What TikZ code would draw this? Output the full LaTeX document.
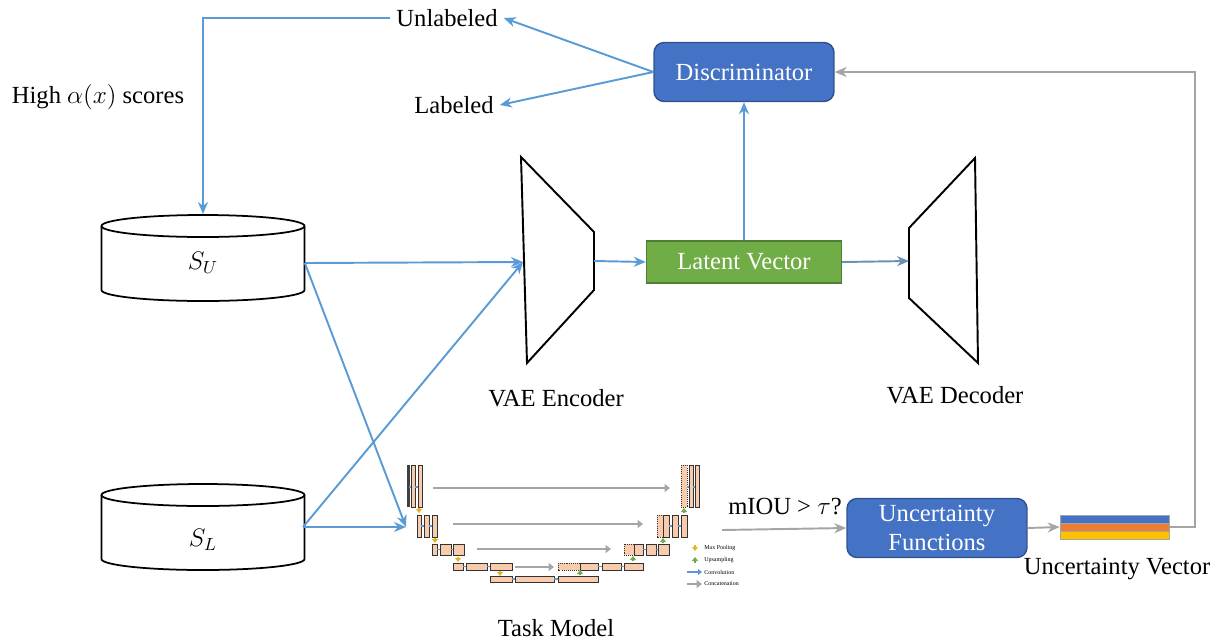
\documentclass[tikz,border=0pt]{standalone}
\usepackage{amsmath}
\usepackage{fontspec}
\setmainfont{Liberation Serif}
\usetikzlibrary{arrows.meta,positioning}

\definecolor{boxblue}{HTML}{4472C4}
\definecolor{boxedge}{HTML}{2F528F}
\definecolor{latgreen}{HTML}{70AD47}
\definecolor{latedge}{HTML}{507E32}
\definecolor{arrblue}{HTML}{5B9BD5}
\definecolor{arrgray}{HTML}{A5A5A5}
\definecolor{peach}{HTML}{F8CBAD}
\definecolor{vorange}{HTML}{ED7D31}
\definecolor{vyellow}{HTML}{FFC000}
\definecolor{poolcol}{HTML}{E6B422}

\begin{document}
\begin{tikzpicture}[x=0.02cm,y=-0.02cm,font=\fontsize{14}{16.5}\selectfont,
  block/.style={draw=boxedge,fill=boxblue,text=white,rounded corners=0.2cm,line width=0.8pt,
    minimum width=3.6cm,minimum height=1.18cm,align=center},
  latent/.style={draw=latedge,fill=latgreen,text=white,line width=0.8pt,
    minimum width=3.9cm,minimum height=0.84cm},
  blu/.style={draw=arrblue,line width=1.1pt,-{Stealth[length=2.4mm,width=2mm]}},
  gry/.style={draw=arrgray,line width=1.1pt,-{Stealth[length=2.4mm,width=2mm]}},
  fmap/.style={draw=black!80,fill=peach,line width=0.35pt},
  skipmap/.style={fmap,dashed,dash pattern=on 0.6pt off 0.6pt},
  conv/.style={draw=arrblue,line width=0.6pt},
  pool/.style={draw=poolcol,line width=0.9pt,-{Triangle[length=0.8mm,width=1.2mm]}},
  upsm/.style={draw=latgreen,line width=0.9pt,-{Triangle[length=0.8mm,width=1.2mm]}},
  cat/.style={draw=arrgray,line width=1.6pt,-{Triangle[length=1.1mm,width=1.6mm]}}]
\useasboundingbox (0,0) rectangle (1216,643);

% databases
\foreach \yt in {226,495}{
  \draw[line width=1pt,fill=white] (203,\yt) ellipse (101.5 and 11);
  \draw[line width=1pt] (101.5,\yt) -- (101.5,\yt+64) arc (180:0:101.5 and 11) -- (304.5,\yt);
}
\node[minimum width=4.06cm,minimum height=1.2cm] (su) at (203,263) {$S_U$};
\node[minimum width=4.06cm,minimum height=1.2cm] (sl) at (203,540) {$S_L$};
\coordinate (sutop) at (203,214);
\coordinate (slout) at (303,527);

% labels top left
\node (unl) at (447,18) {Unlabeled};
\node (lab) at (454,105) {Labeled};
\node (hi) at (98,97) {High $\alpha(x)$ scores};

% discriminator and latent vector
\node[block] (disc) at (744,72) {Discriminator};
\node[latent] (lat) at (744,262) {Latent Vector};

% VAE encoder / decoder
\draw[line width=1.1pt] (521,157) -- (594,232) -- (594,290) -- (527,363) -- cycle;
\draw[line width=1.1pt] (975,158) -- (909,228) -- (909,298) -- (978,363) -- cycle;
\coordinate (encin) at (523,262);
\coordinate (encout) at (594,261);
\coordinate (decin) at (909,261);
\node (enc) at (556,398) {VAE Encoder};
\node (dec) at (955,395) {VAE Decoder};

% task model (small U-Net)
\fill[black!75] (407,465) rectangle (409.5,507);
\foreach \a/\b/\c/\d in {411/465/415/507, 418/465/422/507, 689/465/693/507, 695/465/699/507,
  417/515/421/537, 424/515/429/537, 432/515/437/537, 663/515/669/537, 672/515/678/537, 681/515/687/537,
  432/544/437/555, 440/544/451/555, 453/544/464/555, 634/544/643/555, 646/544/656/555, 658/544/669/555,
  453/563/463/570, 466/563/487/570, 490/563/512/570, 580/563/598/570, 602/563/621/570, 624/563/643/570,
  490/576/512/582, 515/576/554/582, 558/576/598/582}
  \draw[fmap] (\a,\b) rectangle (\c,\d);
\foreach \a/\b/\c/\d in {681/465/687/507, 657/515/663/537, 624/544/634/555, 558/563/580/570}
  \draw[skipmap] (\a,\b) rectangle (\c,\d);
\foreach \a/\b/\y in {409/411/487, 415/418/487, 687/689/487, 693/695/487,
  421/424/526, 429/432/526, 669/672/526, 678/681/526,
  437/440/549.5, 451/453/549.5, 643/646/549.5, 656/658/549.5,
  463/466/566.5, 487/490/566.5, 598/602/566.5, 621/624/566.5,
  512/515/579, 554/558/579}
  \draw[conv] (\a,\y) -- (\b,\y);
\foreach \a/\b/\y in {433/670/488, 453/643/524, 477/611/549, 515/554/567}
  \draw[cat] (\a,\y) -- (\b,\y);
\foreach \x/\y in {419/508, 435/538, 458/557, 500/571}
  \draw[pool] (\x,\y) -- (\x,\y+5);
\foreach \x/\y in {580/575, 633/561, 663/543, 684/513}
  \draw[upsm] (\x,\y) -- (\x,\y-5);
% legend
\begin{scope}[font=\fontsize{3.4}{4}\selectfont]
\draw[pool] (695,545) -- (695,551);
\draw[upsm] (695,563) -- (695,557);
\draw[draw=arrblue,line width=0.9pt,-{Triangle[length=0.8mm,width=1.2mm]}] (687,572) -- (702,572);
\draw[cat,line width=0.9pt] (687,584) -- (702,584);
\node[anchor=west,inner sep=0] (lg1) at (704,548) {Max Pooling};
\node[anchor=west,inner sep=0] (lg2) at (704,560) {Upsampling};
\node[anchor=west,inner sep=0] (lg3) at (704,572) {Convolution};
\node[anchor=west,inner sep=0] (lg4) at (704,584) {Concatenation};
\end{scope}
\coordinate (tmin) at (406,527);
\coordinate (tmout) at (722,530);
\node (tm) at (556,628) {Task Model};

% uncertainty part
\node (miou) at (785,507) {mIOU > $\tau$?};
\node[block] (unc) at (937,528) {Uncertainty\\Functions};
\draw[draw=arrgray,fill=boxblue] (1060,515) rectangle (1169,523);
\draw[draw=arrgray,fill=vorange] (1060,523) rectangle (1169,531);
\draw[draw=arrgray,fill=vyellow] (1060,531) rectangle (1169,539);
\node[minimum width=2.18cm,minimum height=0.48cm,inner sep=0] (uvec) at (1114.5,527) {};
\node (uvl) at (1117,569) {Uncertainty Vector};

% connectors
\draw[blu] (unl.west) -| (sutop);
\draw[blu] (disc.west) -- (unl.east);
\draw[blu] (disc.west) -- (lab.east);
\draw[blu] (lat.north) -- (disc.south);
\draw[blu] (su.east) -- (encin);
\draw[blu] (slout) -- (encin);
\draw[blu] (su.east) -- (tmin);
\draw[blu] (slout) -- (tmin);
\draw[blu] (encout) -- (lat.west);
\draw[blu,draw=arrblue!60!gray] (lat.east) -- (decin);
\draw[gry] (tmout) -- (unc.west);
\draw[gry] (unc.east) -- (uvec.west);
\draw[gry] (uvec.east) -- ++(26,0) |- (disc.east);
\end{tikzpicture}
\end{document}
